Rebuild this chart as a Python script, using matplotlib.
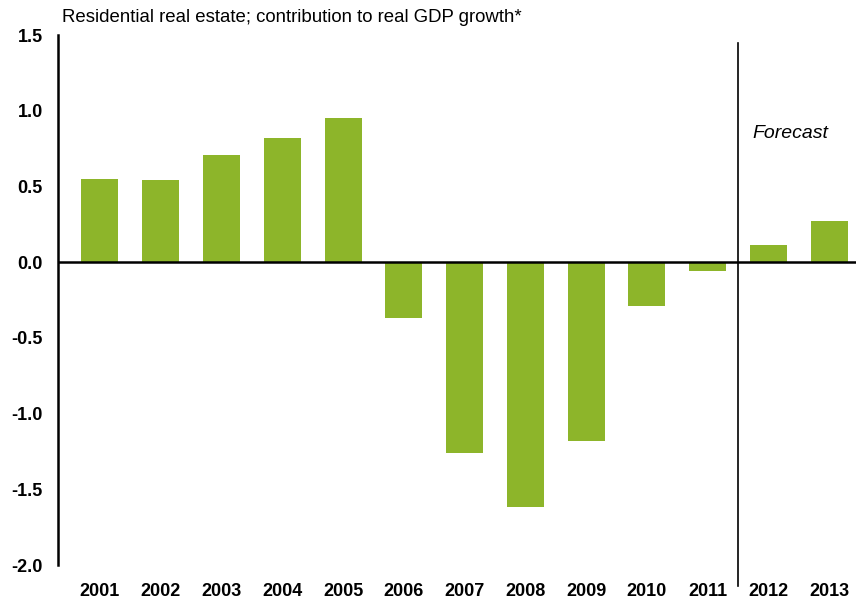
import matplotlib
matplotlib.use("Agg")
import matplotlib.pyplot as plt

plt.rcParams['font.family'] = ['Liberation Sans', 'DejaVu Sans']

years = ["2001", "2002", "2003", "2004", "2005", "2006", "2007",
         "2008", "2009", "2010", "2011", "2012", "2013"]
values = [0.55, 0.54, 0.71, 0.82, 0.95, -0.37, -1.26,
          -1.62, -1.18, -0.29, -0.06, 0.11, 0.27]
yticks = [1.5, 1.0, 0.5, 0.0, -0.5, -1.0, -1.5, -2.0]
title = "Residential real estate; contribution to real GDP growth*"
forecast_label = "Forecast"

fig = plt.figure(figsize=(8.56, 6.06), dpi=100)
ax = fig.add_axes([58/856, (606-565)/606, 1 - 58/856, 530/606])

x = list(range(len(years)))
ax.bar(x, values, width=0.61, color="#8DB52A", zorder=2)
ax.axhline(0, color="black", lw=1.8, zorder=3)
ax.axvline(10.5, ymin=-0.04, ymax=0.985, color="black", lw=1.2, clip_on=False, zorder=3)

ax.set_xlim(-0.69, 12.44)
ax.set_ylim(-2.0, 1.5)
ax.set_yticks(yticks)
ax.set_yticklabels([f"{v:.1f}" for v in yticks], fontweight="bold", fontsize=13)
ax.set_xticks(x)
ax.set_xticklabels(years, fontweight="bold", fontsize=13)
ax.tick_params(axis="both", length=0)
ax.tick_params(axis="x", pad=13)
ax.tick_params(axis="y", pad=11)

for s in ["top", "right", "bottom"]:
    ax.spines[s].set_visible(False)
ax.spines["left"].set_linewidth(1.8)

ax.text(11.36, 0.85, forecast_label, style="italic", fontsize=14,
        ha="center", va="center")
fig.text(62/856, 1 - 18/606, title, fontsize=13.4, ha="left", va="center")

fig.savefig("out.png", dpi=100)
